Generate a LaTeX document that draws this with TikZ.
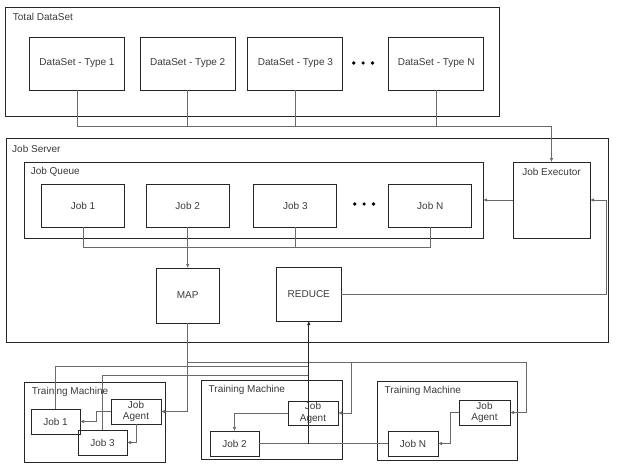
\documentclass[tikz,border=0pt]{standalone}
\usepackage{fontspec}
\setmainfont{Liberation Sans}
\usetikzlibrary{arrows.meta}
\definecolor{txt}{HTML}{3A3A3A}
\definecolor{ln}{HTML}{6A6A6A}
\newcommand\fsz{\fontsize{10}{11.5}\selectfont}
\begin{document}
\begin{tikzpicture}[x=1pt,y=-1pt,
 box/.style={draw=black!85, line width=0.9pt, inner sep=0pt, outer sep=0pt, text=txt, font=\fsz, align=center},
 sz/.style 2 args={minimum width=#1pt, minimum height=#2pt},
 lbl/.style={text=txt, font=\fsz, inner sep=0pt, anchor=west},
 con/.style={draw=ln, line width=0.6pt},
 arr/.style={con, -{Latex[length=4pt,width=3.5pt]}},
 rarr/.style={draw=black!85, line width=0.9pt, -{Latex[length=4pt,width=3.5pt]}}]
\useasboundingbox (0,0) rectangle (620,474);

% Total DataSet
\node[box,sz={493.6}{109}] (total) at (252.2,61.5) {};
\node[lbl] (totallbl) at (12.7,17) {Total DataSet};
\node[box,sz={95}{53}] (ds1) at (77,63.5) {DataSet - Type 1};
\node[box,sz={95}{53}] (ds2) at (187.7,63.5) {DataSet - Type 2};
\node[box,sz={95}{53}] (ds3) at (295.4,63.5) {DataSet - Type 3};
\node[box,sz={95}{53}] (dsN) at (436.2,63.5) {DataSet - Type N};
\fill (353.7,63) circle (1.8) (363.1,63) circle (1.8) (372.5,63) circle (1.8);

% Job Server
\node[box,sz={602.7}{204}] (server) at (307.3,240) {};
\node[lbl] (serverlbl) at (12,149) {Job Server};
\node[box,sz={458.4}{76}] (queue) at (253.9,200) {};
\node[lbl] (queuelbl) at (30.6,172) {Job Queue};
\node[box,sz={83}{43}] (job1) at (83,205.5) {Job 1};
\node[box,sz={83}{43}] (job2) at (187.7,205.5) {Job 2};
\node[box,sz={83}{43}] (job3) at (295.4,205.5) {Job 3};
\node[box,sz={83}{43}] (jobN) at (430.3,205.5) {Job N};
\fill (354.7,204) circle (1.8) (364.1,204) circle (1.8) (373.5,204) circle (1.8);
\node[box,sz={77}{76}] (executor) at (551.5,200) {};
\node[text=txt,font=\fsz,inner sep=0pt] (execlbl) at (551.5,172) {Job Executor};
\node[box,sz={63.2}{55}] (map) at (187.7,295.5) {MAP};
\node[box,sz={64.3}{54}] (reduce) at (308.8,294) {REDUCE};

% Training machines
\node[box,sz={141}{80}] (tm1) at (95,422) {};
\node[lbl] (tm1lbl) at (31.7,392) {Training Machine};
\node[box,sz={141}{79}] (tm2) at (271.5,419.5) {};
\node[lbl] (tm2lbl) at (208.5,390) {Training Machine};
\node[box,sz={140}{79}] (tm3) at (447,420.5) {};
\node[lbl] (tm3lbl) at (384.5,391) {Training Machine};

\node[box,sz={49}{25}] (tjob1) at (55.5,421.5) {Job 1};
\node[box,sz={49}{25}] (tjob3) at (102.5,442.5) {Job 3};
\node[box,sz={50}{25}] (agent1) at (136,411.5) {Job\\Agent};
\node[box,sz={50}{24}] (agent2) at (313,413) {Job\\Agent};
\node[box,sz={49}{25}] (tjob2) at (234.5,443.5) {Job 2};
\node[box,sz={51}{25}] (agent3) at (484.5,412.5) {Job\\Agent};
\node[box,sz={50}{25}] (tjobN) at (413,443.5) {Job N};

% coordinates
\coordinate (busE) at (551.5,126);
\coordinate (jb) at (0,247);
\coordinate (mb) at (187.7,362);
\coordinate (m2) at (351.7,362);
\coordinate (m3) at (526,362);
\coordinate (r1) at (308.8,366);
\coordinate (r3) at (308.8,375);
\coordinate (rb) at (308.8,443.5);
\coordinate (rx) at (606,294);

% dataset bus
\draw[con] (ds1.south) |- (busE);
\draw[con] (ds2.south) -- (ds2.south |- busE);
\draw[con] (ds3.south) -- (ds3.south |- busE);
\draw[con] (dsN.south) -- (dsN.south |- busE);
\draw[arr] (busE) -- (executor.north);

% executor -> queue
\draw[arr] (executor.west) -- (queue.east);

% job bus
\draw[con] (job1.south) -- (job1.south |- jb) -- (jobN.south |- jb) -- (jobN.south);
\draw[con] (job3.south) -- (job3.south |- jb);
\draw[arr] (job2.south) -- (map.north);

% reduce -> executor
\draw[arr] (reduce.east) -- (rx) |- (executor.east);

% map -> agents
\draw[arr] (map.south) |- (agent1.east);
\draw[con] (mb) -- (m3);
\draw[arr] (m3) |- (agent3.east);
\draw[arr] (m2) |- (agent2.east);

% agents -> jobs
\draw[arr] (agent1.west) -- ++(-15,0) |- (tjob1.east);
\draw[arr] (agent1.south) |- (tjob3.east);
\draw[arr] (agent2.west) -| (tjob2.north);
\draw[arr] (agent3.west) -- ++(-9,0) |- (tjobN.east);

% jobs -> reduce
\draw[con] (tjob1.north) |- (r1);
\draw[con] (tjob3.north) |- (r3);
\draw[con] (tjob2.east) -- (rb);
\draw[con] (rb) -- (tjobN.west);
\draw[rarr] (rb) -- (reduce.south);
\end{tikzpicture}
\end{document}
